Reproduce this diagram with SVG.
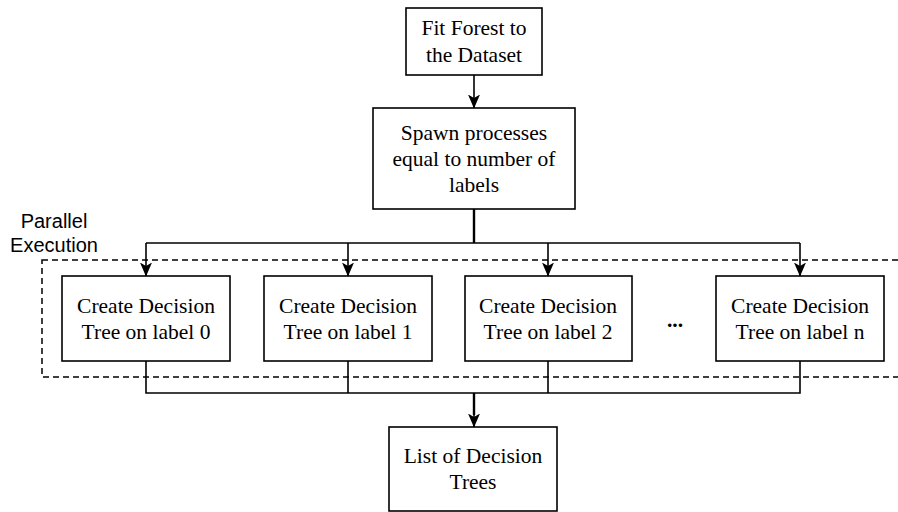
<svg xmlns="http://www.w3.org/2000/svg" width="898" height="512" viewBox="0 0 898 512">
  <defs>
    <marker id="arrow" viewBox="0 0 14 12" refX="13.5" refY="6" markerWidth="14" markerHeight="12" markerUnits="userSpaceOnUse" orient="auto">
      <path d="M0,0 L14,6 L0,12 L3.5,6 Z" fill="#000"/>
    </marker>
    <style>
      .box { fill: #fff; stroke: #000; stroke-width: 1.6; }
      .lbl { font-family: "Liberation Serif", "Times New Roman", serif; font-size: 21.5px; fill: #000; text-anchor: middle; }
      .sans { font-family: "Liberation Sans", Arial, sans-serif; font-size: 20px; fill: #000; text-anchor: middle; }
      .wire { fill: none; stroke: #000; stroke-width: 1.6; }
      .trunk { fill: none; stroke: #000; stroke-width: 2.4; }
      .dash { fill: none; stroke: #000; stroke-width: 1.5; stroke-dasharray: 6 4; }
    </style>
  </defs>
  <rect width="898" height="512" fill="#fff"/>

  <!-- parallel execution region -->
  <g id="parallel-region">
    <rect class="dash" x="42" y="260" width="870" height="117"/>
    <text class="sans" x="54"><tspan x="54" y="228">Parallel</tspan><tspan x="54" y="252">Execution</tspan></text>
  </g>

  <!-- connectors -->
  <g id="connectors">
    <path class="wire" d="M474,75 V108" marker-end="url(#arrow)"/>
    <path class="trunk" d="M474,209 V243"/>
    <path class="wire" d="M146,243 H800"/>
    <path class="wire" d="M146,243 V276" marker-end="url(#arrow)"/>
    <path class="wire" d="M348,243 V276" marker-end="url(#arrow)"/>
    <path class="wire" d="M548,243 V276" marker-end="url(#arrow)"/>
    <path class="wire" d="M800,243 V276" marker-end="url(#arrow)"/>
    <path class="wire" d="M146,361 V393 H800 V361 M348,361 V393 M548,361 V393"/>
    <path class="trunk" d="M474,393 V415"/>
    <path class="wire" d="M474,410 V427" marker-end="url(#arrow)"/>
  </g>

  <g id="fit-forest">
    <rect class="box" x="406" y="8" width="136" height="67"/>
    <text class="lbl"><tspan x="474" y="35">Fit Forest to</tspan><tspan x="474" y="62">the Dataset</tspan></text>
  </g>

  <g id="spawn">
    <rect class="box" x="373" y="108" width="202" height="101"/>
    <text class="lbl"><tspan x="474" y="140">Spawn processes</tspan><tspan x="474" y="166">equal to number of</tspan><tspan x="474" y="192">labels</tspan></text>
  </g>

  <g id="tree-0">
    <rect class="box" x="62" y="276" width="168" height="85"/>
    <text class="lbl"><tspan x="146" y="313">Create Decision</tspan><tspan x="146" y="339">Tree on label 0</tspan></text>
  </g>

  <g id="tree-1">
    <rect class="box" x="264" y="276" width="168" height="85"/>
    <text class="lbl"><tspan x="348" y="313">Create Decision</tspan><tspan x="348" y="339">Tree on label 1</tspan></text>
  </g>

  <g id="tree-2">
    <rect class="box" x="465" y="276" width="167" height="85"/>
    <text class="lbl"><tspan x="548" y="313">Create Decision</tspan><tspan x="548" y="339">Tree on label 2</tspan></text>
  </g>

  <g id="ellipsis">
    <text class="lbl" x="675" y="327" style="font-weight:bold">...</text>
  </g>

  <g id="tree-n">
    <rect class="box" x="716" y="276" width="168" height="85"/>
    <text class="lbl"><tspan x="800" y="313">Create Decision</tspan><tspan x="800" y="339">Tree on label n</tspan></text>
  </g>

  <g id="tree-list">
    <rect class="box" x="389" y="427" width="168" height="84"/>
    <text class="lbl"><tspan x="473" y="463">List of Decision</tspan><tspan x="473" y="489">Trees</tspan></text>
  </g>
</svg>
